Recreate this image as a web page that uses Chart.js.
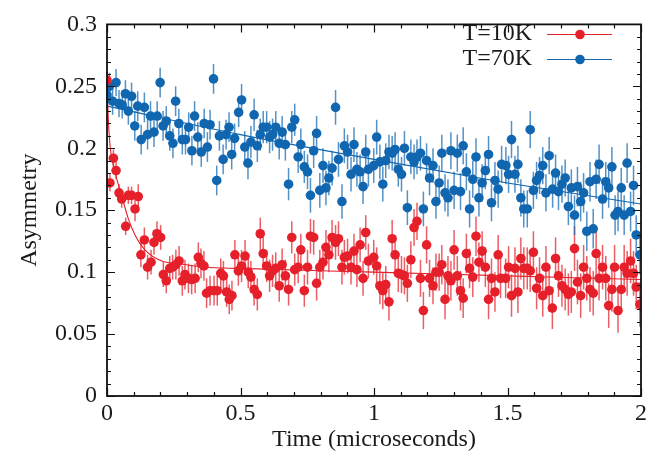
<!DOCTYPE html>
<html>
<head>
<meta charset="utf-8">
<script src="https://cdn.jsdelivr.net/npm/chart.js@4.4.1/dist/chart.umd.min.js"></script>
<style>
  html,body{margin:0;background:#fff}
  #wrap{width:660px;height:458px}
</style>
</head>
<body>
<div id="wrap"><canvas id="chart"></canvas></div>
<script>
// T=10K data (time in microseconds, asymmetry)
const redT = [0.000,0.011,0.024,0.034,0.045,0.055,0.070,0.080,0.092,0.105,0.117,0.127,0.140,0.152,0.165,0.176,0.187,0.201,0.211,0.222,
  0.235,0.246,0.258,0.270,0.282,0.292,0.305,0.317,0.330,0.342,0.352,0.363,0.373,0.386,0.401,0.413,0.426,0.436,0.448,0.458,
  0.468,0.479,0.492,0.504,0.517,0.529,0.539,0.551,0.563,0.574,0.585,0.598,0.609,0.620,0.632,0.645,0.656,0.668,0.680,0.692,
  0.703,0.716,0.726,0.739,0.751,0.762,0.774,0.785,0.797,0.809,0.820,0.831,0.843,0.856,0.867,0.880,0.889,0.901,0.914,0.925,
  0.936,0.948,0.959,0.969,0.979,0.999,1.010,1.022,1.033,1.044,1.056,1.068,1.079,1.091,1.103,1.114,1.125,1.138,1.150,1.161,
  1.174,1.185,1.197,1.208,1.221,1.232,1.244,1.254,1.266,1.277,1.288,1.300,1.312,1.324,1.334,1.346,1.358,1.370,1.382,1.393,
  1.405,1.417,1.429,1.440,1.453,1.465,1.474,1.493,1.504,1.515,1.528,1.539,1.550,1.561,1.574,1.585,1.597,1.609,1.620,1.632,
  1.644,1.656,1.668,1.680,1.691,1.704,1.716,1.728,1.739,1.751,1.762,1.774,1.785,1.797,1.809,1.821,1.832,1.843,1.856,1.868,
  1.879,1.891,1.901,1.914,1.926,1.937,1.948,1.961,1.972,1.982,1.996];
const redA = [0.255,0.172,0.192,0.182,0.164,0.159,0.137,0.162,0.162,0.151,0.161,0.114,0.126,0.104,0.108,0.124,0.131,0.128,0.098,0.093,
  0.103,0.104,0.106,0.109,0.093,0.098,0.095,0.094,0.095,0.112,0.107,0.105,0.083,0.085,0.085,0.085,0.099,0.097,0.084,0.078,
  0.081,0.114,0.101,0.105,0.113,0.100,0.096,0.086,0.082,0.131,0.115,0.105,0.097,0.101,0.103,0.089,0.106,0.097,0.086,0.128,
  0.102,0.104,0.118,0.085,0.104,0.129,0.128,0.091,0.104,0.108,0.120,0.114,0.128,0.124,0.127,0.104,0.112,0.113,0.104,0.117,
  0.102,0.122,0.095,0.132,0.109,0.112,0.105,0.089,0.085,0.090,0.076,0.127,0.114,0.099,0.098,0.097,0.091,0.110,0.136,0.141,
  0.095,0.069,0.122,0.095,0.089,0.100,0.100,0.106,0.078,0.097,0.093,0.118,0.097,0.085,0.079,0.115,0.103,0.096,0.129,0.108,
  0.117,0.104,0.078,0.095,0.084,0.114,0.095,0.095,0.104,0.081,0.103,0.084,0.111,0.103,0.103,0.101,0.116,0.087,0.095,0.081,
  0.104,0.085,0.071,0.111,0.097,0.089,0.086,0.082,0.084,0.119,0.092,0.081,0.104,0.095,0.086,0.083,0.115,0.095,0.104,0.095,
  0.073,0.086,0.104,0.069,0.086,0.104,0.099,0.109,0.099,0.088,0.074];

// T=70K data
const blueT = [0.000,0.009,0.021,0.034,0.045,0.057,0.069,0.080,0.092,0.104,0.115,0.128,0.140,0.152,0.163,0.176,0.188,0.199,0.210,0.222,
  0.235,0.247,0.257,0.269,0.282,0.294,0.306,0.318,0.328,0.340,0.353,0.364,0.376,0.386,0.399,0.411,0.421,0.435,0.446,0.457,
  0.467,0.478,0.493,0.504,0.516,0.528,0.539,0.551,0.563,0.574,0.585,0.598,0.609,0.620,0.632,0.645,0.656,0.668,0.680,0.692,
  0.703,0.716,0.726,0.739,0.751,0.762,0.774,0.785,0.797,0.809,0.820,0.831,0.843,0.856,0.867,0.880,0.889,0.901,0.914,0.925,
  0.936,0.948,0.959,0.969,0.979,0.999,1.010,1.022,1.033,1.044,1.056,1.068,1.079,1.091,1.103,1.114,1.125,1.138,1.150,1.161,
  1.174,1.185,1.197,1.208,1.221,1.232,1.244,1.254,1.266,1.277,1.288,1.300,1.312,1.324,1.334,1.346,1.358,1.370,1.382,1.393,
  1.405,1.417,1.429,1.440,1.453,1.465,1.478,1.494,1.504,1.515,1.528,1.539,1.550,1.561,1.574,1.585,1.597,1.609,1.620,1.632,
  1.644,1.656,1.669,1.680,1.691,1.704,1.716,1.728,1.739,1.751,1.762,1.774,1.785,1.797,1.809,1.821,1.832,1.843,1.856,1.868,
  1.879,1.891,1.903,1.914,1.926,1.937,1.948,1.961,1.972,1.982,1.996];
const blueA = [0.243,0.250,0.238,0.253,0.236,0.235,0.244,0.230,0.242,0.218,0.234,0.207,0.233,0.211,0.226,0.213,0.226,0.253,0.218,0.222,
  0.210,0.204,0.238,0.220,0.207,0.207,0.217,0.198,0.226,0.209,0.197,0.220,0.201,0.219,0.256,0.174,0.210,0.191,0.211,0.217,
  0.195,0.208,0.229,0.239,0.201,0.188,0.205,0.227,0.202,0.211,0.217,0.217,0.209,0.211,0.217,0.204,0.213,0.203,0.171,0.217,
  0.223,0.193,0.203,0.185,0.181,0.162,0.198,0.212,0.166,0.186,0.168,0.176,0.184,0.233,0.191,0.157,0.202,0.197,0.179,0.203,
  0.183,0.181,0.169,0.197,0.183,0.186,0.209,0.189,0.171,0.190,0.197,0.196,0.199,0.183,0.179,0.200,0.152,0.193,0.189,0.193,
  0.196,0.151,0.190,0.176,0.186,0.157,0.172,0.196,0.164,0.160,0.198,0.166,0.196,0.165,0.202,0.181,0.151,0.175,0.193,0.160,
  0.172,0.182,0.195,0.156,0.174,0.167,0.187,0.186,0.179,0.207,0.179,0.187,0.160,0.151,0.151,0.215,0.166,0.174,0.178,0.186,
  0.164,0.194,0.167,0.180,0.165,0.171,0.176,0.153,0.168,0.146,0.169,0.157,0.164,0.133,0.173,0.135,0.175,0.187,0.159,0.173,
  0.168,0.185,0.146,0.149,0.168,0.146,0.188,0.149,0.170,0.130,0.114];

// error bar half-length, by time segment (segment ends at errT[k])
const errT    = [0.1,   0.25,  0.5,   0.75,  1.0,   1.25,  1.5,   1.75,  2.01];
const redErr  = [0.007, 0.010, 0.012, 0.013, 0.014, 0.015, 0.016, 0.017, 0.018];
const blueErr = [0.011, 0.012, 0.012, 0.013, 0.014, 0.014, 0.015, 0.015, 0.016];

// fit curves
const redFitT  = [0, 0.004, 0.011, 0.024, 0.042, 0.061, 0.08, 0.105, 0.142, 0.205, 0.267, 0.367, 0.5, 1.0, 1.5, 2.0];
const redFitA  = [0.262, 0.228, 0.203, 0.186, 0.171, 0.157, 0.143, 0.130, 0.118, 0.109, 0.107, 0.104, 0.103, 0.100, 0.097, 0.094];
const blueFitT = [0, 0.5, 1.0, 1.5, 2.0];
const blueFitA = [0.234, 0.211, 0.191, 0.172, 0.155];

const labels = ['T=10K', 'T=70K'];
const RED = '#e5202a', BLUE = '#1166b0';
const FONT = '"Liberation Serif", "Times New Roman", serif';

function pts(t, a){ return t.map((v,i)=>({x:v, y:a[i]})); }
function errFor(t, tbl){ return t.map(v=>{ let k=0; while(k<errT.length-1 && v>=errT[k]) k++; return tbl[k]; }); }

const frame = {
  id: 'frame',
  beforeDatasetsDraw(chart){
    const {ctx, scales:{x,y}} = chart;
    ctx.save();
    ctx.lineWidth = 1.5;
    chart.data.datasets.forEach(ds=>{
      if(!ds.err) return;
      ctx.strokeStyle = ds.errColor;
      ds.data.forEach((p,i)=>{
        const px = x.getPixelForValue(p.x);
        ctx.beginPath();
        ctx.moveTo(px, y.getPixelForValue(p.y - ds.err[i]));
        ctx.lineTo(px, y.getPixelForValue(p.y + ds.err[i]));
        ctx.stroke();
      });
    });
    ctx.restore();
  },
  afterDraw(chart){
    const {ctx, chartArea:a, scales:{x,y}} = chart;
    ctx.save();
    ctx.strokeStyle = '#111';
    // inward ticks on all sides
    ctx.lineWidth = 1.2;
    ctx.beginPath();
    for(let i=0;i<=20;i++){
      const px = Math.round(x.getPixelForValue(i/10))+0.5, L = i%5===0 ? 8 : 4;
      ctx.moveTo(px, a.bottom); ctx.lineTo(px, a.bottom-L);
      ctx.moveTo(px, a.top); ctx.lineTo(px, a.top+L);
    }
    for(let i=0;i<=30;i++){
      const py = Math.round(y.getPixelForValue(i/100))+0.5, L = i%5===0 ? 8 : 4;
      ctx.moveTo(a.left, py); ctx.lineTo(a.left+L, py);
      ctx.moveTo(a.right, py); ctx.lineTo(a.right-L, py);
    }
    ctx.stroke();
    ctx.lineWidth = 1.8;
    ctx.strokeRect(a.left, a.top, a.right-a.left, a.bottom-a.top);
    // key, gnuplot style: text then sample
    ctx.font = '24px ' + FONT;
    ctx.textAlign = 'right';
    ctx.textBaseline = 'middle';
    [[RED, 34], [BLUE, 59]].forEach(([c, yy], i)=>{
      ctx.fillStyle = '#1a1a1a';
      ctx.fillText(labels[i], 532, yy);
      ctx.strokeStyle = c; ctx.lineWidth = 1.2;
      ctx.beginPath(); ctx.moveTo(547, yy+0.5); ctx.lineTo(612, yy+0.5); ctx.stroke();
      ctx.fillStyle = c;
      ctx.beginPath(); ctx.arc(580, yy+0.5, 4.8, 0, Math.PI*2); ctx.fill();
    });
    ctx.restore();
  }
};

new Chart(document.getElementById('chart'), {
  type: 'scatter',
  data: { datasets: [
    { label: labels[0], data: pts(redT, redA), err: errFor(redT, redErr), errColor: 'rgba(229,32,42,0.72)',
      backgroundColor: RED, borderWidth: 0, pointRadius: 4.8, order: 0 },
    { label: labels[1], data: pts(blueT, blueA), err: errFor(blueT, blueErr), errColor: 'rgba(17,102,176,0.72)',
      backgroundColor: BLUE, borderWidth: 0, pointRadius: 4.8, order: 1 },
    { type: 'line', data: pts(redFitT, redFitA), borderColor: RED, borderWidth: 1.1, pointRadius: 0,
      cubicInterpolationMode: 'monotone', order: 2 },
    { type: 'line', data: pts(blueFitT, blueFitA), borderColor: BLUE, borderWidth: 1.1, pointRadius: 0,
      cubicInterpolationMode: 'monotone', order: 3 }
  ]},
  options: {
    responsive: true, maintainAspectRatio: false, animation: false,
    layout: { padding: { top: 15, right: 19, left: 0, bottom: 0 }, autoPadding: false },
    plugins: { legend: { display: false }, tooltip: { enabled: false } },
    scales: {
      x: {
        type: 'linear', min: 0, max: 2,
        grid: { display: false, drawTicks: false }, border: { display: false },
        ticks: { stepSize: 0.5, padding: 3, color: '#1a1a1a', font: { family: FONT, size: 24 },
          maxRotation: 0, callback: v => String(+v.toFixed(1)) },
        title: { display: true, text: 'Time (microseconds)', color: '#1a1a1a', font: { family: FONT, size: 24 },
          padding: { top: 0, bottom: 4 } },
        afterFit: s => { s.height = 62; }
      },
      y: {
        type: 'linear', min: 0, max: 0.3,
        grid: { display: false, drawTicks: false }, border: { display: false },
        ticks: { stepSize: 0.05, padding: 10, color: '#1a1a1a', font: { family: FONT, size: 24 },
          callback: v => String(+v.toFixed(2)) },
        title: { display: true, text: 'Asymmetry', color: '#1a1a1a', font: { family: FONT, size: 24 },
          padding: { top: 15, bottom: 0 } },
        afterFit: s => { s.width = 107; }
      }
    }
  },
  plugins: [frame]
});
</script>
</body>
</html>
